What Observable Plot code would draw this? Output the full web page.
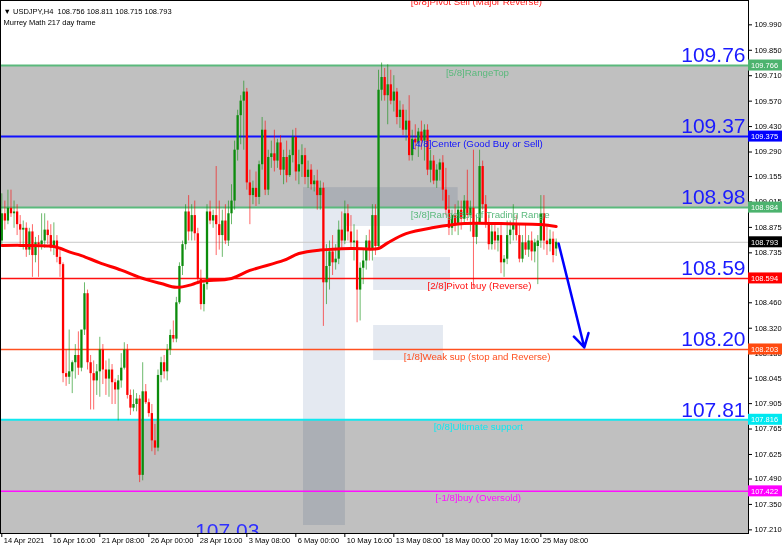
<!DOCTYPE html>
<html><head><meta charset="utf-8">
<script src="https://cdn.jsdelivr.net/npm/d3@7"></script>
<script src="https://cdn.jsdelivr.net/npm/@observablehq/plot@0.6"></script>
<style>
html,body{margin:0;padding:0;background:#fff;}
#chart{position:relative;width:782px;height:549px;overflow:hidden;}
svg{display:block;}
</style></head><body><div id="chart"></div>
<script>
// ---- data (USDJPY H4 candles) ----
const opens = [
108.80,108.95,108.91,108.98,108.95,108.96,108.89,108.86,108.87,108.75,
108.85,108.72,108.79,108.78,108.80,108.86,108.83,108.76,108.80,108.71,
108.67,108.07,108.05,108.08,108.13,108.17,108.10,108.31,108.51,108.13,
108.07,108.03,108.08,108.20,108.09,108.04,108.09,108.02,107.98,108.03,
108.10,108.20,107.95,107.88,107.90,107.93,107.51,107.97,107.91,107.85,
107.70,107.66,108.06,108.13,108.08,108.20,108.28,108.26,108.46,108.66,
108.78,108.96,108.85,108.94,108.84,108.59,108.45,108.56,108.96,108.91,
108.94,108.89,108.83,108.91,108.80,108.95,109.02,109.30,109.49,109.57,
109.62,109.12,109.05,109.09,109.04,109.22,109.41,109.08,109.26,109.28,
109.24,109.34,109.19,109.26,109.16,109.27,109.37,109.18,109.22,109.27,
109.15,109.19,109.11,109.13,109.05,109.09,108.57,108.66,108.74,108.68,
108.70,108.86,108.80,108.95,108.85,108.79,108.80,108.53,108.65,108.69,
108.80,108.75,108.94,108.77,109.63,109.70,109.60,109.66,109.57,109.62,
109.48,109.52,109.41,109.46,109.27,109.36,109.34,109.40,109.35,109.41,
109.19,109.24,109.13,109.19,109.23,109.08,108.97,108.87,108.94,108.89,
108.97,108.92,109.02,108.94,108.98,108.82,108.90,109.21,109.00,108.90,
108.78,108.85,108.80,108.83,108.68,108.70,108.83,108.86,108.89,108.83,
108.70,108.79,108.75,108.80,108.74,108.77,108.80,108.95,108.80,108.78,
108.81,108.756];
const highs = [
109.06,109.02,109.08,109.08,109.02,109.00,108.94,108.91,108.90,108.87,
108.89,108.82,108.83,108.95,108.95,108.91,108.89,108.90,108.83,108.75,
108.68,108.20,108.31,108.14,108.23,108.30,108.23,108.57,108.53,108.17,
108.14,108.12,108.27,108.23,108.14,108.15,108.12,108.04,108.06,108.18,
108.24,108.23,107.98,107.98,107.96,107.95,108.13,108.01,107.93,107.90,
107.79,108.09,108.16,108.17,108.23,108.31,108.36,108.49,108.68,108.80,
109.00,109.05,109.00,109.02,108.87,108.64,108.58,109.00,109.02,108.97,
109.21,109.02,108.97,109.00,109.02,109.11,109.35,109.52,109.60,109.68,
109.64,109.19,109.13,109.18,109.24,109.48,109.46,109.30,109.35,109.41,
109.36,109.38,109.30,109.35,109.30,109.41,109.42,109.30,109.33,109.31,
109.24,109.22,109.16,109.19,109.13,109.12,108.78,108.80,108.83,108.78,
108.91,108.96,109.02,109.00,108.94,108.89,108.86,108.68,108.75,108.83,
108.86,109.00,109.00,109.74,109.78,109.75,109.77,109.74,109.71,109.64,
109.57,109.55,109.52,109.60,109.41,109.44,109.42,109.46,109.44,109.44,
109.30,109.27,109.22,109.25,109.27,109.20,109.05,108.97,109.00,109.02,
109.02,109.05,109.19,109.02,109.30,108.94,109.30,109.24,109.05,108.94,
108.89,108.89,108.87,108.89,108.72,108.91,108.91,109.00,108.94,108.89,
108.83,108.89,108.83,108.85,108.81,108.83,109.05,109.05,108.89,108.86,
108.85,108.811];
const lows = [
108.78,108.86,108.89,108.93,108.87,108.83,108.78,108.75,108.71,108.72,
108.60,108.68,108.60,108.75,108.76,108.78,108.74,108.72,108.68,108.60,
108.02,108.00,108.01,107.96,108.04,108.06,108.08,108.28,108.09,107.87,
107.87,107.95,107.94,108.01,107.95,107.94,107.90,107.90,107.81,107.99,
108.09,107.93,107.84,107.86,107.86,107.47,107.48,107.90,107.83,107.64,
107.62,107.64,108.02,108.04,108.03,108.17,108.24,108.24,108.45,108.61,
108.75,108.80,108.80,108.80,108.56,108.42,108.41,108.53,108.89,108.87,
108.72,108.75,108.71,108.78,108.77,108.89,108.97,109.24,109.33,109.30,
109.08,108.89,109.00,108.99,109.00,109.19,109.05,109.05,109.20,109.18,
109.20,109.16,109.11,109.12,109.15,109.23,109.13,109.11,109.15,109.11,
109.09,109.08,109.07,108.97,108.97,108.33,108.45,108.53,108.61,108.64,
108.67,108.76,108.78,108.80,108.75,108.69,108.35,108.36,108.56,108.64,
108.69,108.69,108.72,108.75,109.57,109.57,109.44,109.55,109.51,109.44,
109.42,109.38,109.35,109.24,109.24,109.30,109.26,109.30,109.24,109.16,
109.12,109.11,109.09,109.13,109.02,108.94,108.83,108.83,108.85,108.83,
108.86,108.90,108.91,108.85,108.54,108.78,108.89,108.97,108.87,108.75,
108.75,108.75,108.74,108.62,108.60,108.67,108.78,108.80,108.80,108.68,
108.68,108.72,108.71,108.69,108.68,108.56,108.76,108.75,108.72,108.74,
108.68,108.715];
const closes = [
108.95,108.91,108.98,108.95,108.96,108.89,108.86,108.87,108.75,108.85,
108.72,108.79,108.78,108.80,108.86,108.83,108.76,108.80,108.71,108.67,
108.07,108.05,108.08,108.13,108.17,108.10,108.31,108.51,108.13,108.07,
108.03,108.08,108.20,108.09,108.04,108.09,108.02,107.98,108.03,108.10,
108.20,107.95,107.88,107.90,107.93,107.51,107.97,107.91,107.85,107.70,
107.66,108.06,108.13,108.08,108.20,108.28,108.26,108.46,108.66,108.78,
108.96,108.85,108.94,108.84,108.59,108.45,108.56,108.96,108.91,108.94,
108.89,108.83,108.91,108.80,108.95,109.02,109.30,109.49,109.57,109.62,
109.12,109.05,109.09,109.04,109.22,109.41,109.08,109.26,109.28,109.24,
109.34,109.19,109.26,109.16,109.27,109.37,109.18,109.22,109.27,109.15,
109.19,109.11,109.13,109.05,109.09,108.57,108.66,108.74,108.68,108.70,
108.86,108.80,108.95,108.85,108.79,108.80,108.53,108.65,108.69,108.80,
108.75,108.94,108.77,109.63,109.70,109.60,109.66,109.57,109.62,109.48,
109.52,109.41,109.46,109.27,109.36,109.34,109.40,109.35,109.41,109.19,
109.24,109.13,109.19,109.23,109.08,108.97,108.87,108.94,108.89,108.97,
108.92,109.02,108.94,108.98,108.82,108.90,109.21,109.00,108.90,108.78,
108.85,108.80,108.83,108.68,108.70,108.83,108.86,108.89,108.83,108.70,
108.79,108.75,108.80,108.74,108.79,108.80,108.95,108.80,108.78,108.81,
108.72,108.793];

// moving average (read at sample bars)
const maIndex  = [0,6,16,19,22,26,32,39,45,52,57,62,65,75,81,92,97,104,114,123,126,132,141,151,163,176,181];
const maValues = [108.775,108.776,108.772,108.76,108.74,108.72,108.68,108.64,108.60,108.566,108.545,108.56,108.577,108.594,108.638,108.693,108.731,108.75,108.759,108.759,108.79,108.841,108.874,108.896,108.896,108.891,108.88];

// Murrey Math levels
const levelValues = [110.156,109.766,109.375,108.984,108.594,108.203,107.816,107.422];
const levelLabels = ["[6/8]Pivot Sell (Major Reverse)","[5/8]RangeTop","[4/8]Center (Good Buy or Sell)","[3/8]RangeBot of Trading Range","[2/8]Pivot buy (Reverse)","[1/8]Weak sup (stop and Reverse)","[0/8]Ultimate support","[-1/8]buy (Oversold)"];
const levelColors = ["#ff2020","#5ab97c","#1010ff","#5ab97c","#ff1010","#ff5020","#10e8f0","#ff10ff"];
const levelWidths = [1.5,2,2,2,1.5,1.5,2,1.5];
const labelIndex = [133.5,145,134.1,133.5,139,131.2,141,141.6];
const bigLabelValues = [109.766,109.375,108.984,108.594,108.203,107.816];
const bigLabels = ["109.76","109.37","108.98","108.59","108.20","107.81"];
const lowLevelValue = 107.031, lowLevelLabel = "107.03", lowLevelIndex = 63.3;
const grayZones = [[108.984,109.766],[107.19,107.816]];
const currentPrice = 108.793;

// badges on the price axis
const badgeValues = [109.766,109.375,108.984,108.793,108.594,108.203,107.816,107.422];
const badgeColors = ["#4cb36e","#0000ff","#4cb36e","#000000","#ff0000","#ff4a10","#00e8f0","#ff00ff"];

// axes
const yTicks = [109.990,109.850,109.710,109.570,109.430,109.290,109.155,109.015,108.875,108.735,108.460,108.320,108.180,108.045,107.905,107.765,107.625,107.490,107.350,107.210];
const xTickIndex = [0,16,32,48,64,80,96,112,128,144,160,176];
const xTickLabels = ["14 Apr 2021","16 Apr 16:00","21 Apr 08:00","26 Apr 00:00","28 Apr 16:00","3 May 08:00","6 May 00:00","10 May 16:00","13 May 08:00","18 May 00:00","20 May 16:00","25 May 08:00"];
const xDomain = [-0.425, 243.8];
const yDomain = [107.19, 110.124];

// forecast arrow
const arrowFrom = [181.8, 108.786];
const arrowTo = [190.2, 108.214];

// watermark (logo) blocks in bar/price units
const logoX1 = [98.5,112.2,121.4,121.4];
const logoX2 = [112.2,149,146.5,144.2];
const logoY1 = [107.234,108.88,108.528,108.142];
const logoY2 = [109.094,109.094,108.709,108.335];

const header1 = "\u25BC USDJPY,H4  108.756 108.811 108.715 108.793";
const header2 = "Murrey Math 217 day frame";

// ---- build ----
const candles = opens.map((o, i) => ({i, o, h: highs[i], l: lows[i], c: closes[i]}));
const up = candles.filter(d => d.c >= d.o);
const down = candles.filter(d => d.c < d.o);
const ma = maIndex.map((x, k) => ({x, y: maValues[k]}));
const GREEN = "#0c8c0c", RED = "#ff0000";
const FONT = "Liberation Sans, Arial, sans-serif";

const marks = [
  Plot.rect(grayZones, {y1: d => d[0], y2: d => d[1], fill: "#c0c0c0"}),
  Plot.rect(logoX1.map((_, k) => k), {x1: k => logoX1[k], x2: k => logoX2[k], y1: k => logoY1[k], y2: k => logoY2[k], fill: "#e4e9f1", mixBlendMode: "multiply"}),
  Plot.ruleY([currentPrice], {stroke: "#c8c8c8", strokeWidth: 1}),
  ...levelValues.map((v, k) => Plot.ruleY([v], {stroke: levelColors[k], strokeWidth: levelWidths[k]})),
  Plot.ruleX(up, {x: "i", y1: "l", y2: "h", stroke: GREEN, strokeWidth: 1, strokeOpacity: 0.6}),
  Plot.ruleX(down, {x: "i", y1: "l", y2: "h", stroke: RED, strokeWidth: 1, strokeOpacity: 0.6}),
  Plot.ruleX(up, {x: "i", y1: "o", y2: "c", stroke: GREEN, strokeWidth: 2.3}),
  Plot.ruleX(down, {x: "i", y1: "o", y2: "c", stroke: RED, strokeWidth: 2.3}),
  Plot.line(ma, {x: "x", y: "y", stroke: "#ff0000", strokeWidth: 3, curve: "catmull-rom"}),
  ...levelValues.map((v, k) => Plot.text([k], {x: () => labelIndex[k], y: () => v, text: () => levelLabels[k], fill: levelColors[k], textAnchor: "start", dy: 7, fontSize: 9.7, fontFamily: FONT})),
  Plot.text(bigLabelValues.map((v, k) => k), {y: k => bigLabelValues[k], text: k => bigLabels[k], frameAnchor: "right", textAnchor: "end", dx: -3, dy: -10, fontSize: 21, fontFamily: FONT, fill: "#1a1aff"}),
  Plot.arrow([0], {x1: () => arrowFrom[0], y1: () => arrowFrom[1], x2: () => arrowTo[0], y2: () => arrowTo[1], stroke: "#0000ff", strokeWidth: 2.5, headLength: 9}),
  Plot.text([header1], {text: d => d, frameAnchor: "top-left", textAnchor: "start", dx: 3, dy: 8, fontSize: 7.5, fontFamily: FONT, fill: "#000"}),
  Plot.text([header2], {text: d => d, frameAnchor: "top-left", textAnchor: "start", dx: 3, dy: 19, fontSize: 7.5, fontFamily: FONT, fill: "#000"}),
  Plot.text(xTickIndex, {x: d => d, text: (d, k) => xTickLabels[k], frameAnchor: "bottom", textAnchor: "start", dx: 2, dy: 9, fontSize: 7.5, fontFamily: FONT, fill: "#000"}),
  Plot.frame({stroke: "#000", strokeWidth: 1})
];

const chart = Plot.plot({
  width: 782, height: 549,
  marginLeft: 0, marginRight: 34, marginTop: 0, marginBottom: 16,
  style: {fontFamily: FONT, fontSize: "7.5px", background: "#fff", color: "#000"},
  x: {domain: xDomain, axis: "bottom", ticks: xTickIndex, tickFormat: () => "", tickSize: 4, label: null},
  y: {domain: yDomain, axis: "right", ticks: yTicks, tickFormat: ".3f", tickSize: 3, tickPadding: 3, label: null},
  marks
});
document.getElementById("chart").appendChild(chart);

// overlays positioned through Plot's own scales
const scaleFn = s => s.apply ? (v => s.apply(v)) : d3.scaleLinear(s.domain, s.range);
const fy = scaleFn(chart.scale("y"));
const fx = scaleFn(chart.scale("x"));
const svg = d3.select(chart);
const x0 = fx(xDomain[0]), x1 = fx(xDomain[1]), yTop = fy(yDomain[1]), yBot = fy(yDomain[0]);

// the [-2/8] level label, clipped by the frame
svg.append("defs").append("clipPath").attr("id", "frameclip")
  .append("rect").attr("x", x0).attr("y", yTop).attr("width", x1 - x0).attr("height", yBot - yTop);
svg.append("g").attr("clip-path", "url(#frameclip)")
  .append("text").attr("x", fx(lowLevelIndex)).attr("y", fy(lowLevelValue) - 24)
  .attr("text-anchor", "start").attr("font-size", "21px").attr("font-family", FONT).attr("fill", "#3030ff")
  .text(lowLevelLabel);

// price badges on the right axis
const g = svg.append("g").attr("text-anchor", "start");
badgeValues.forEach((v, k) => {
  const yy = fy(v);
  g.append("rect").attr("x", x1).attr("y", yy - 5.5).attr("width", 34).attr("height", 11).attr("fill", badgeColors[k]);
  g.append("text").attr("x", x1 + 3).attr("y", yy + 3).attr("text-anchor", "start").attr("fill", "#fff")
    .attr("font-size", "7.5px").attr("font-family", FONT).text(v.toFixed(3));
});
</script>
</body></html>
